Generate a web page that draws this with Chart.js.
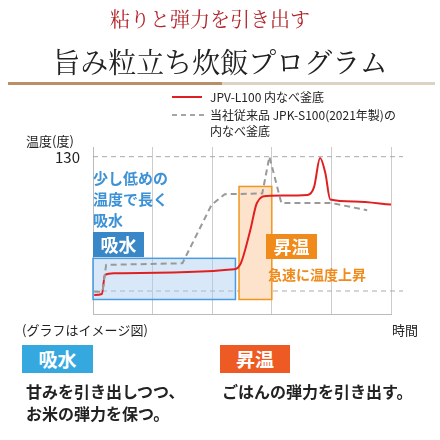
<!DOCTYPE html>
<html><head><meta charset="utf-8">
<script src="https://cdn.jsdelivr.net/npm/chart.js@4"></script>
<style>
body{margin:0;width:440px;height:440px;background:#fff;position:relative;overflow:hidden;font-family:"Noto Sans CJK JP",sans-serif}
.a{position:absolute;white-space:nowrap}
canvas{position:absolute;left:0;top:0}
</style></head><body>
<canvas id="c" width="440" height="440"></canvas>
<div class="a" style="left:0;width:420px;text-align:center;top:4px;font-family:'Noto Serif CJK JP','Noto Sans CJK JP',serif;font-size:20px;color:#b3262b">粘りと弾力を引き出す</div>
<div class="a" style="left:0;width:440px;text-align:center;top:41px;font-family:'Noto Serif CJK JP','Noto Sans CJK JP',serif;font-size:28px;color:#222">旨み粒立ち炊飯プログラム</div>
<div class="a" style="left:8px;top:82px;width:214px;height:3px;background:#b98f66"></div>
<div class="a" style="left:222px;top:82px;width:213px;height:3px;background:#ddd2c6"></div>
<div class="a" style="left:22px;top:345px;width:71px;height:28px;background:#35a8e0;color:#fff;font-size:19px;font-weight:bold;text-align:center;line-height:28px">吸水</div>
<div class="a" style="left:220px;top:345px;width:70px;height:28px;background:#ee5a24;color:#fff;font-size:19px;font-weight:bold;text-align:center;line-height:28px">昇温</div>
<div class="a" style="left:26px;top:380px;font-size:16px;font-weight:bold;color:#222;line-height:22px">甘みを引き出しつつ、<br>お米の弾力を保つ。</div>
<div class="a" style="left:222px;top:380px;font-size:16px;font-weight:bold;color:#222;line-height:22px">ごはんの弾力を引き出す。</div>
<script>
const redX=[0.02,0.15,0.2,0.35,2.37,2.48,2.64,2.75,2.92,3.6,3.71,3.81,3.9,3.98,4.39,5.02];
const redY=[15.7,16.5,32.3,33.7,37,41.9,69.5,91.7,97.6,98.4,105,128.9,116,94.6,93,90.3];
const grayX=[0.02,0.16,0.22,1.5,1.99,2.21,2.84,2.96,3.16,4.0,4.6];
const grayY=[18.4,18.4,40.6,41.9,90.3,99,99.6,130,91.7,91.7,85.7];
const refLines=[130,19];
const blueBox=[0,2.39,12,46];
const orangeBox=[2.45,3.0,12,105.4];
const legendLabels=["JPV-L100 内なべ釜底","当社従来品 JPK-S100(2021年製)の","内なべ釜底"];
const pts=(xs,ys)=>xs.map((x,i)=>({x,y:ys[i]}));
const F='"Noto Sans CJK JP",sans-serif';
const deco={id:'deco',
beforeDatasetsDraw(ch){const c=ch.ctx,x=ch.scales.x,y=ch.scales.y;
 const box=(b,f,s)=>{const l=x.getPixelForValue(b[0]),r=x.getPixelForValue(b[1]),t=y.getPixelForValue(b[3]),bt=y.getPixelForValue(b[2]);c.fillStyle=f;c.fillRect(l,t,r-l,bt-t);c.strokeStyle=s;c.lineWidth=1.5;c.strokeRect(l,t,r-l,bt-t);};
 c.save();
 c.setLineDash([5,4]);c.strokeStyle='#aaa';c.lineWidth=1;
 refLines.forEach(v=>{const p=y.getPixelForValue(v);c.beginPath();c.moveTo(x.left,p);c.lineTo(x.right+12,p);c.stroke();});
 c.setLineDash([]);
 box(blueBox,'rgba(170,205,240,0.45)','#4a9be0');
 box(orangeBox,'#fde3cc','#f0961e');
 c.restore();},
afterDraw(ch){const c=ch.ctx;c.save();
 c.fillStyle='#3a87c8';c.fillRect(93,232,51,25);
 c.fillStyle='#f08a1a';c.fillRect(266,234,51,25);
 c.textBaseline='middle';c.font='bold 18px '+F;c.fillStyle='#fff';c.textAlign='center';
 c.fillText('吸水',118.5,245);c.fillText('昇温',291.5,247);
 c.textAlign='left';c.font='bold 15px '+F;c.fillStyle='#3d92d6';
 ['少し低めの','温度で長く','吸水'].forEach((t,i)=>c.fillText(t,93,178+i*21));
 c.fillStyle='#f08a1a';c.font='bold 14px '+F;c.fillText('急速に温度上昇',268,275);
 c.fillStyle='#222';c.font='12px '+F;
 c.fillText(legendLabels[0],210,97);c.fillText(legendLabels[1],210,115);c.fillText(legendLabels[2],210,131);
 c.font='13px '+F;c.fillText('温度(度)',26,141);
 c.fillText('(グラフはイメージ図)',22,330);c.fillText('時間',392,330);
 c.font='15px '+F;c.textAlign='right';c.fillText('130',80,157);
 c.strokeStyle='#e02020';c.lineWidth=2;c.beginPath();c.moveTo(172,97);c.lineTo(202,97);c.stroke();
 c.strokeStyle='#888';c.setLineDash([5,4]);c.lineWidth=1.5;c.beginPath();c.moveTo(172,115);c.lineTo(204,115);c.stroke();
 c.restore();}};
new Chart(document.getElementById('c'),{type:'line',
data:{datasets:[
 {data:pts(grayX,grayY),borderColor:'#999',borderDash:[6,4],borderWidth:2,pointRadius:0,tension:0},
 {data:pts(redX,redY),borderColor:'#e02020',borderWidth:2,pointRadius:0,tension:0.35,cubicInterpolationMode:'monotone'}]},
options:{responsive:false,animation:false,layout:{padding:{left:85,right:49,top:147,bottom:126}},
plugins:{legend:{display:false},tooltip:{enabled:false}},
scales:{x:{type:'linear',min:0,max:5,ticks:{display:false,stepSize:1},grid:{color:'#ccc',drawTicks:false},border:{color:'#bbb'}},
 y:{min:0,max:138,ticks:{display:false},grid:{display:false},border:{color:'#bbb'}}}},
plugins:[deco]});
</script></body></html>
